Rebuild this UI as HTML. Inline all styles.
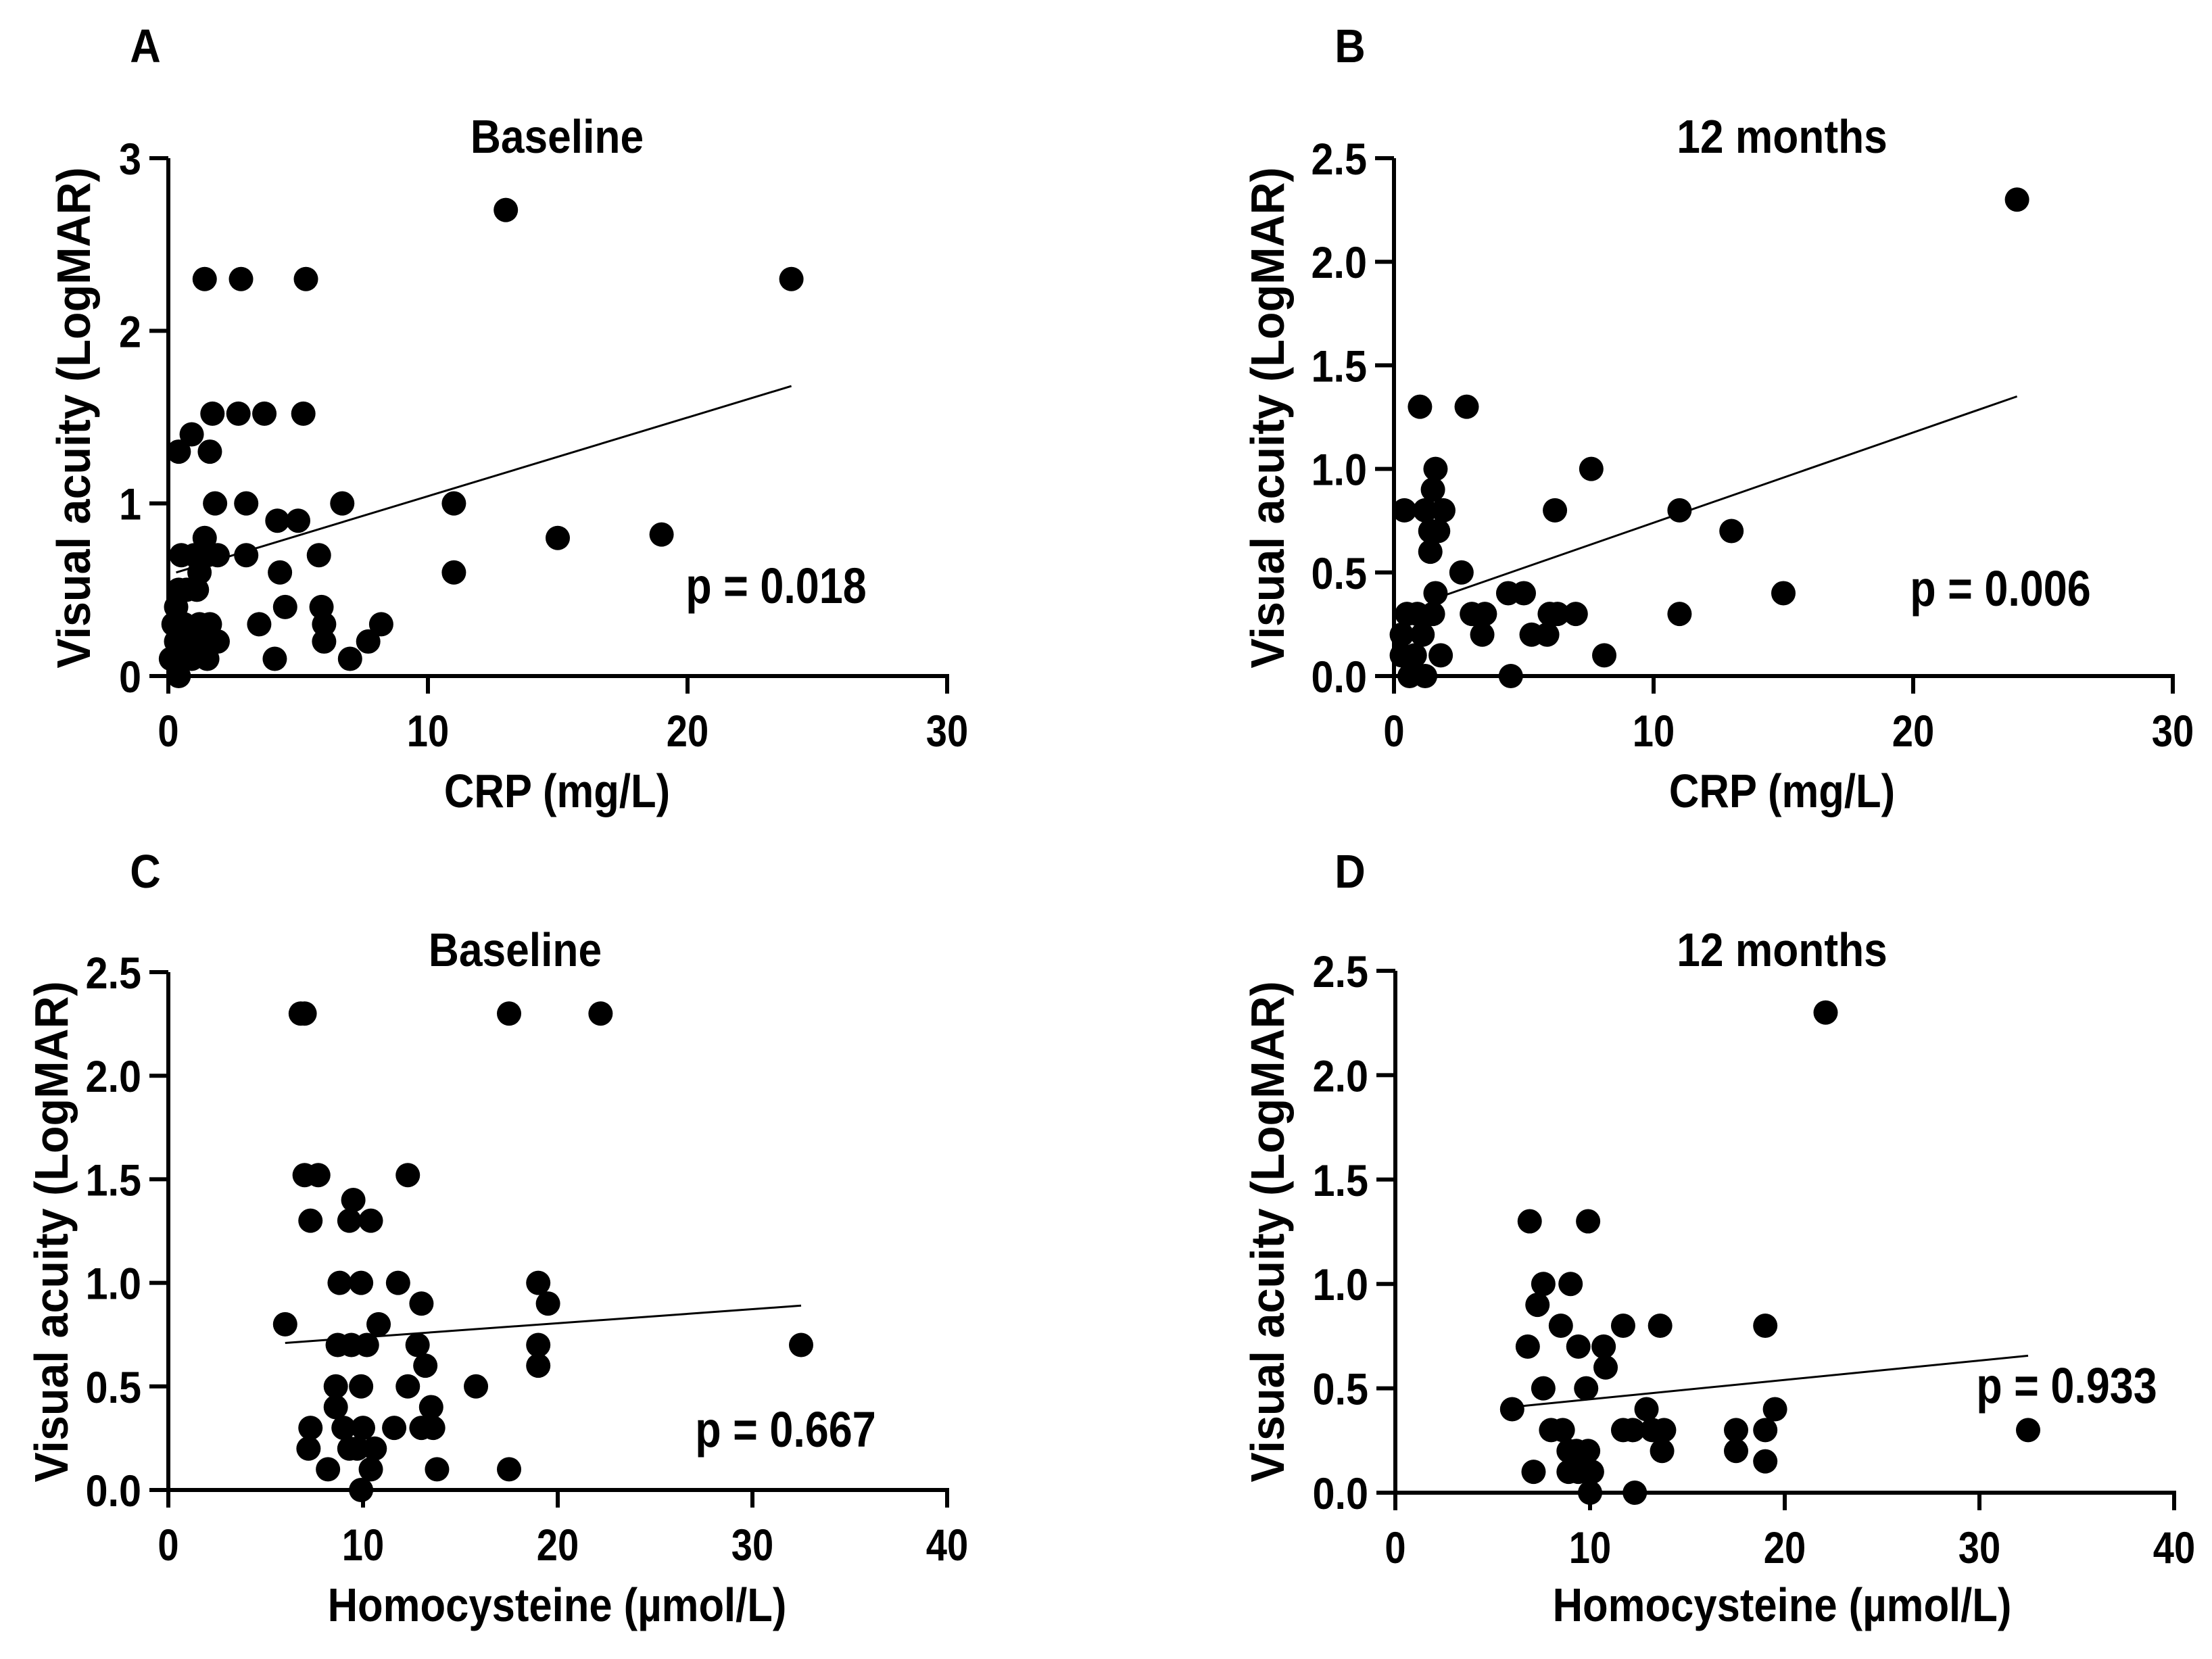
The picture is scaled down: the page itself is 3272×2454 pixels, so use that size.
<!DOCTYPE html>
<html><head><meta charset="utf-8"><style>
html,body{margin:0;padding:0;background:#fff;}
svg text{font-family:"Liberation Sans",sans-serif;font-weight:bold;fill:#000;}
</style></head><body>
<svg id="fig" width="3272" height="2449" viewBox="0 0 3272 2449" xmlns="http://www.w3.org/2000/svg"></svg>
<script>
const aX = [13,24,1.4,2.8,5.3,1.7,2.7,3.7,5.2,0.9,0.4,1.6,1.8,3.0,6.7,11,4.2,5.0,15,19,1.4,0.5,1.0,1.5,1.9,3.0,5.8,1.2,4.3,11,0.4,0.7,1.1,0.3,4.5,5.9,0.2,0.6,1.2,1.6,3.5,6.0,8.2,0.3,0.8,1.1,1.9,6.0,7.7,0.1,0.5,0.9,1.5,4.1,7.0,0.4];
const aY = [2.7,2.3,2.3,2.3,2.3,1.52,1.52,1.52,1.52,1.4,1.3,1.3,1.0,1.0,1.0,1.0,0.9,0.9,0.8,0.82,0.8,0.7,0.7,0.7,0.7,0.7,0.7,0.6,0.6,0.6,0.5,0.5,0.5,0.4,0.4,0.4,0.3,0.3,0.3,0.3,0.3,0.3,0.3,0.2,0.2,0.2,0.2,0.2,0.2,0.1,0.1,0.1,0.1,0.1,0.1,0.0];
const aFitX = [0.3,24]; const aFitY = [0.6,1.68];
const bX = [24,1.0,2.8,1.6,7.6,1.5,0.4,1.2,1.9,6.2,11,1.4,1.7,13,1.4,2.6,1.6,4.4,5.0,15,0.5,0.9,1.5,3.0,3.5,6.0,6.3,7.0,11,0.3,1.1,3.4,5.3,5.9,0.3,0.8,1.8,8.1,0.6,1.2,4.5];
const bY = [2.3,1.3,1.3,1.0,1.0,0.9,0.8,0.8,0.8,0.8,0.8,0.7,0.7,0.7,0.6,0.5,0.4,0.4,0.4,0.4,0.3,0.3,0.3,0.3,0.3,0.3,0.3,0.3,0.3,0.2,0.2,0.2,0.2,0.2,0.1,0.1,0.1,0.1,0.0,0.0,0.0];
const bFitX = [1.5,24]; const bFitY = [0.37,1.35];
const cX = [6.8,7.0,17.5,22.2,7.0,7.7,12.3,9.5,7.3,9.3,10.4,8.8,9.9,11.8,19,6.0,10.8,13.0,19.5,8.7,9.4,10.2,12.8,19,32.5,13.2,19,8.6,9.9,12.3,15.8,8.6,13.5,7.3,9.0,10.0,11.6,13.0,13.6,7.2,9.3,9.7,10.6,8.2,10.4,13.8,17.5,9.9];
const cY = [2.3,2.3,2.3,2.3,1.52,1.52,1.52,1.4,1.3,1.3,1.3,1.0,1.0,1.0,1.0,0.8,0.8,0.9,0.9,0.7,0.7,0.7,0.7,0.7,0.7,0.6,0.6,0.5,0.5,0.5,0.5,0.4,0.4,0.3,0.3,0.3,0.3,0.3,0.3,0.2,0.2,0.2,0.2,0.1,0.1,0.1,0.1,0.0];
const cFitX = [6,32.5]; const cFitY = [0.71,0.89];
const dX = [22.1,6.9,9.9,7.6,9.0,7.3,8.5,11.7,13.6,19,6.8,9.4,10.7,10.8,7.6,9.8,6.0,12.9,19.5,8.0,8.6,11.7,12.2,13.2,13.8,17.5,19.0,32.5,8.9,9.3,9.9,13.7,17.5,19,7.1,8.9,9.4,10.1,10.0,12.3];
const dY = [2.3,1.3,1.3,1.0,1.0,0.9,0.8,0.8,0.8,0.8,0.7,0.7,0.7,0.6,0.5,0.5,0.4,0.4,0.4,0.3,0.3,0.3,0.3,0.3,0.3,0.3,0.3,0.3,0.2,0.2,0.2,0.2,0.2,0.15,0.1,0.1,0.1,0.1,0.0,0.0];
const dFitX = [6.5,32.5]; const dFitY = [0.415,0.656];
const crpTicks = [0,10,20,30];
const hcyTicks = [0,10,20,30,40];
const yTicks3 = [0,1,2,3];
const yTicks25 = [0,0.5,1.0,1.5,2.0,2.5];

const NS = "http://www.w3.org/2000/svg";
const svg = document.getElementById('fig');
function mk(tag, attrs, parent, txt){
  const e = document.createElementNS(NS, tag);
  for (const k in attrs) e.setAttribute(k, attrs[k]);
  if (txt !== undefined) e.textContent = txt;
  (parent||svg).appendChild(e);
  return e;
}
function txt(parent, x, y, str, size, sx, anchor, rot){
  const tr = `translate(${x},${y})` + (rot ? ` rotate(${rot})` : '') + ` scale(${sx},1)`;
  return mk('text', {x:0, y:0, 'font-size':size, 'text-anchor':anchor, transform:tr}, parent, str);
}
const panels = [
 {id:'a', letter:'A', lx:215, ly:67, x0:249, x1:1401, y0:1000, y1:234, xmax:30, ymax:3, xt:crpTicks, yt:yTicks3, ydec:0, xs:aX, ys:aY, fx:aFitX, fy:aFitY, title:'Baseline', tx:824, ty:202, xl:'CRP (mg/L)', xlx:824, xly:1169, ylx:108, yly:618, p:'p = 0.018', px:1148, py:866},
 {id:'b', letter:'B', lx:1997, ly:67, x0:2062, x1:3214, y0:1000, y1:234, xmax:30, ymax:2.5, xt:crpTicks, yt:yTicks25, ydec:1, xs:bX, ys:bY, fx:bFitX, fy:bFitY, title:'12 months', tx:2636, ty:202, xl:'CRP (mg/L)', xlx:2636, xly:1169, ylx:1874, yly:618, p:'p = 0.006', px:2959, py:870},
 {id:'c', letter:'C', lx:215, ly:1288, x0:249, x1:1401, y0:2204, y1:1438, xmax:40, ymax:2.5, xt:hcyTicks, yt:yTicks25, ydec:1, xs:cX, ys:cY, fx:cFitX, fy:cFitY, title:'Baseline', tx:762, ty:1405, xl:'Homocysteine (\u00b5mol/L)', xlx:824, xly:2373, ylx:75, yly:1822, p:'p = 0.667', px:1162, py:2114},
 {id:'d', letter:'D', lx:1997, ly:1288, x0:2064, x1:3216, y0:2208, y1:1436, xmax:40, ymax:2.5, xt:hcyTicks, yt:yTicks25, ydec:1, xs:dX, ys:dY, fx:dFitX, fy:dFitY, title:'12 months', tx:2636, ty:1405, xl:'Homocysteine (\u00b5mol/L)', xlx:2636, xly:2373, ylx:1874, yly:1822, p:'p = 0.933', px:3057, py:2049}
];
panels.forEach(P => {
  const g = mk('g', {});
  
  
  const sx = v => P.x0 + v / P.xmax * (P.x1 - P.x0);
  const sy = v => P.y0 - v / P.ymax * (P.y0 - P.y1);
  const L = txt(g, P.lx, P.ly+25, P.letter, 70, 0.9, 'middle');
  
  
  const T = txt(g, P.tx, P.ty+24, P.title, 70, 0.89, 'middle');
  
  
  const ya = mk('line', {x1:P.x0, y1:P.y1, x2:P.x0, y2:P.y0+24, stroke:'#000', 'stroke-width':6}, g);
  
  
  const xa = mk('line', {x1:P.x0-3, y1:P.y0, x2:P.x1+3, y2:P.y0, stroke:'#000', 'stroke-width':6}, g);
  
  
  P.xt.forEach(t => {
    const X = sx(t);
    const tk = mk('line', {x1:X, y1:P.y0, x2:X, y2:P.y0+26, stroke:'#000', 'stroke-width':6}, g);
    
    
    const tl = txt(g, X, P.y0+104, String(t), 66, 0.85, 'middle');
    
    
  });
  P.yt.forEach(t => {
    const Y = sy(t);
    const tk = mk('line', {x1:P.x0-28, y1:Y, x2:P.x0, y2:Y, stroke:'#000', 'stroke-width':6}, g);
    
    
    const tl = txt(g, P.x0-40, Y+24, t.toFixed(P.ydec), 66, 0.9, 'end');
    
    
  });
  const xl = txt(g, P.xlx, P.xly+25, P.xl, 70, 0.88, 'middle');
  
  
  const yl = txt(g, P.ylx+25, P.yly, 'Visual acuity (LogMAR)', 70, 0.95, 'middle', -90);
  
  
  P.xs.forEach((v, i) => {
    const c = mk('circle', {cx:sx(v), cy:sy(P.ys[i]), r:18, fill:'#000'}, g);
    
    
  });
  const fl = mk('line', {x1:sx(P.fx[0]), y1:sy(P.fy[0]), x2:sx(P.fx[1]), y2:sy(P.fy[1]), stroke:'#000', 'stroke-width':3}, g);
  
  
  const pt = txt(g, P.px, P.py+26, P.p, 74, 0.85, 'middle');
  
  
});
</script>
</body></html>
